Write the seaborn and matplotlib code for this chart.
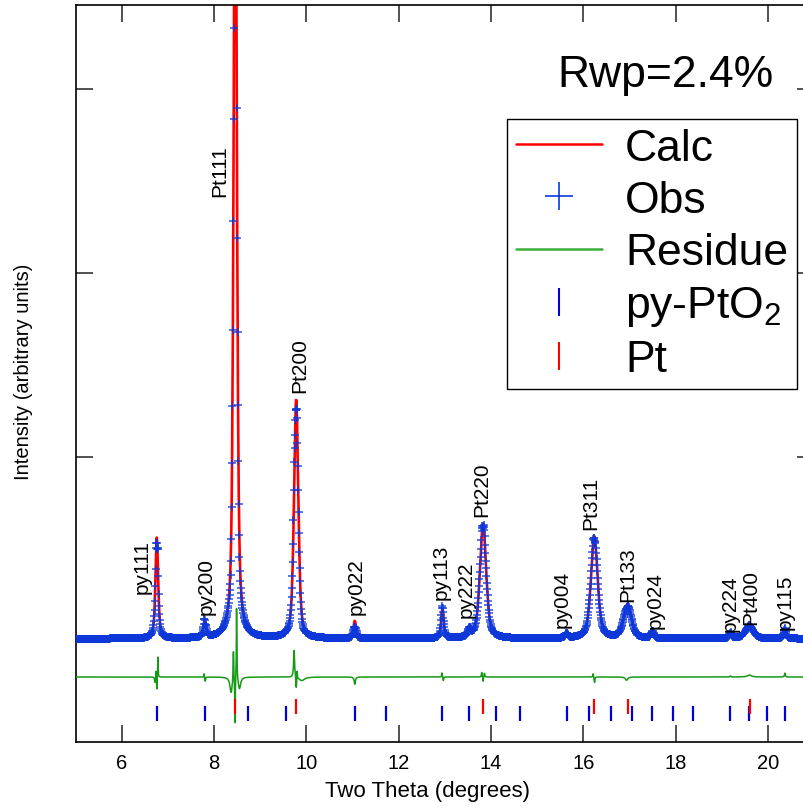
import numpy as np
import pandas as pd
import matplotlib
matplotlib.use("Agg")
import matplotlib.pyplot as plt
import seaborn as sns
from matplotlib.lines import Line2D

# ---------------- data ----------------
# Calculated profile: peak position (deg), height above background, FWHM (deg), Lorentz fraction
peak_pos    = [6.76, 7.80, 8.46, 9.78, 11.05, 12.95, 13.53, 13.83, 15.64, 16.24, 16.96, 17.50, 19.19, 19.60, 20.37]
peak_height = [548, 95, 4800, 1300, 95, 160, 42, 625, 26, 555, 185, 36, 26, 62, 38]
peak_fwhm   = [0.07, 0.07, 0.08, 0.11, 0.07, 0.07, 0.08, 0.16, 0.07, 0.17, 0.20, 0.08, 0.08, 0.22, 0.08]
peak_eta    = [0.6, 0.6, 0.6, 0.5, 0.6, 0.6, 0.6, 0.5, 0.6, 0.5, 0.5, 0.6, 0.6, 0.5, 0.6]
background = 12

# Obs - Calc misfit features: position, amplitude, width
resid_pos   = [6.72, 6.745, 6.76, 6.785, 7.785, 7.81, 8.37, 8.42, 8.455, 8.49, 8.55,
               9.735, 9.78, 9.80, 9.90, 11.05, 12.94, 12.97, 13.80, 13.83, 13.86,
               16.215, 16.245, 16.94, 19.19, 19.60, 20.37]
resid_amp   = [-30, 40, -70, 115, 20, -25, -85, 240, -260, 440, -65,
               150, -90, 40, -20, -40, 32, -22, 25, -30, 25,
               20, -35, -18, 6, 11, 22]
resid_width = [0.02, 0.008, 0.008, 0.01, 0.01, 0.015, 0.06, 0.012, 0.012, 0.012, 0.06,
               0.025, 0.012, 0.01, 0.15, 0.03, 0.012, 0.015, 0.015, 0.01, 0.015,
               0.015, 0.015, 0.06, 0.02, 0.10, 0.02]

# Reflection tick positions
py_ticks = [6.76, 7.80, 8.74, 9.57, 11.05, 11.73, 12.95, 13.53, 14.10, 14.63, 15.65,
            16.13, 16.60, 17.06, 17.50, 17.94, 18.37, 19.19, 19.59, 19.98, 20.37]
pt_ticks = [8.46, 9.78, 13.83, 16.24, 16.96, 19.61]

# Peak labels: text, x centre, y bottom
label_text = ["py111", "py200", "Pt111", "Pt200", "py022", "py113", "py222", "Pt220",
              "py004", "Pt311", "Pt133", "py024", "py224", "Pt400", "py115"]
label_x    = [6.45, 7.84, 8.13, 9.86, 11.08, 12.93, 13.46, 13.81,
              15.55, 16.17, 16.97, 17.57, 19.18, 19.62, 20.38]
label_y    = [261, 147, 2418, 1353, 147, 228, 130, 679,
              76, 609, 217, 71, 54, 92, 65]

resid_offset = -196
step = 0.008

# ---------------- build profiles ----------------
def pvoigt(x, x0, h, w, eta):
    d = (2.0 * (x - x0) / w) ** 2
    return h * (eta / (1.0 + d) + (1.0 - eta) * np.exp(-np.log(2.0) * d))

tt = np.arange(5.0, 21.0 + step / 2, step)
calc = np.full_like(tt, background, dtype=float)
for p, h, w, e in zip(peak_pos, peak_height, peak_fwhm, peak_eta):
    calc += pvoigt(tt, p, h, w, e)
misfit = np.zeros_like(tt)
for p, a, w in zip(resid_pos, resid_amp, resid_width):
    misfit += pvoigt(tt, p, a, w, 1.0)
obs = calc + misfit

df = pd.DataFrame({"tt": tt, "calc": calc, "obs": obs,
                   "resid": obs - calc + resid_offset})

# ---------------- plot ----------------
sns.set_style("ticks")
plt.rcParams["font.family"] = ["Liberation Sans", "DejaVu Sans"]
plt.rcParams["mathtext.fontset"] = "custom"
plt.rcParams["mathtext.rm"] = "Liberation Sans"
plt.rcParams["mathtext.it"] = "Liberation Sans:italic"
plt.rcParams["text.color"] = "black"
plt.rcParams["axes.labelcolor"] = "black"
plt.rcParams["xtick.labelcolor"] = "black"
plt.rcParams["ytick.labelcolor"] = "black"

fig = plt.figure(figsize=(8.04, 8.12), dpi=100)
ax = fig.add_axes([0.0940, 0.0846, 0.9184, 0.9084])

calc_col = "#ff0000"
obs_col = (0.05, 0.22, 0.85)
res_col = "#159a15"
py_col = "#0000dd"

sns.lineplot(data=df, x="tt", y="calc", ax=ax, color=calc_col, lw=1.9,
             sort=False, estimator=None, zorder=2)
sns.scatterplot(data=df, x="tt", y="obs", ax=ax, marker="+", s=34, color=obs_col,
                linewidth=1.2, alpha=0.8, zorder=3)
sns.lineplot(data=df, x="tt", y="resid", ax=ax, color=res_col, lw=1.1,
             sort=False, estimator=None, zorder=4)
ax.vlines(py_ticks, -435, -353, colors=py_col, lw=1.6, zorder=5)
ax.vlines(pt_ticks, -397, -315, colors=calc_col, lw=1.6, zorder=6)

for t, x, y in zip(label_text, label_x, label_y):
    ax.text(x, y, t, rotation=90, ha="center", va="bottom", fontsize=15, zorder=7)

ax.text(15.43, 3016, "Rwp=2.4%", fontsize=32, va="baseline", ha="left")

ax.set_xlim(5, 21)
ax.set_ylim(-551, 3458)
ax.set_xticks([6, 8, 10, 12, 14, 16, 18, 20])
ax.set_yticks([0, 1000, 2000, 3000])
ax.tick_params(direction="in", length=12, width=1.2, color="#333333",
               top=True, right=True, labelleft=False, labelsize=14.5, pad=8)
for s in ax.spines.values():
    s.set_visible(True)
    s.set_linewidth(1.2)
    s.set_color("black")

ax.set_xlabel("Two Theta (degrees)", fontsize=16)
ax.set_ylabel("Intensity (arbitrary units)", fontsize=14.5)
ax.xaxis.set_label_coords(0.477, -0.051)
ax.yaxis.set_label_coords(-0.0577, 0.503)

handles = [
    Line2D([], [], color=calc_col, lw=1.8),
    Line2D([], [], color=obs_col, marker="+", ls="none", markersize=20, mew=1.2),
    Line2D([], [], color="#3cae3c", lw=1.8),
    Line2D([], [], color=py_col, marker="|", ls="none", markersize=20, mew=1.5),
    Line2D([], [], color=calc_col, marker="|", ls="none", markersize=20, mew=1.5),
]
labels = ["Calc", "Obs", "Residue", "py-PtO$_2$", "Pt"]
leg = ax.legend(handles, labels, loc="upper right",
                bbox_to_anchor=(797 / 804, 1 - 120 / 812), bbox_transform=fig.transFigure,
                fontsize=32, frameon=True, fancybox=False, framealpha=1,
                edgecolor="black", borderpad=0.2, labelspacing=0.25,
                handlelength=1.94, handletextpad=0.52, borderaxespad=0)
leg.get_frame().set_linewidth(1.0)

fig.savefig("out.png", dpi=100)
